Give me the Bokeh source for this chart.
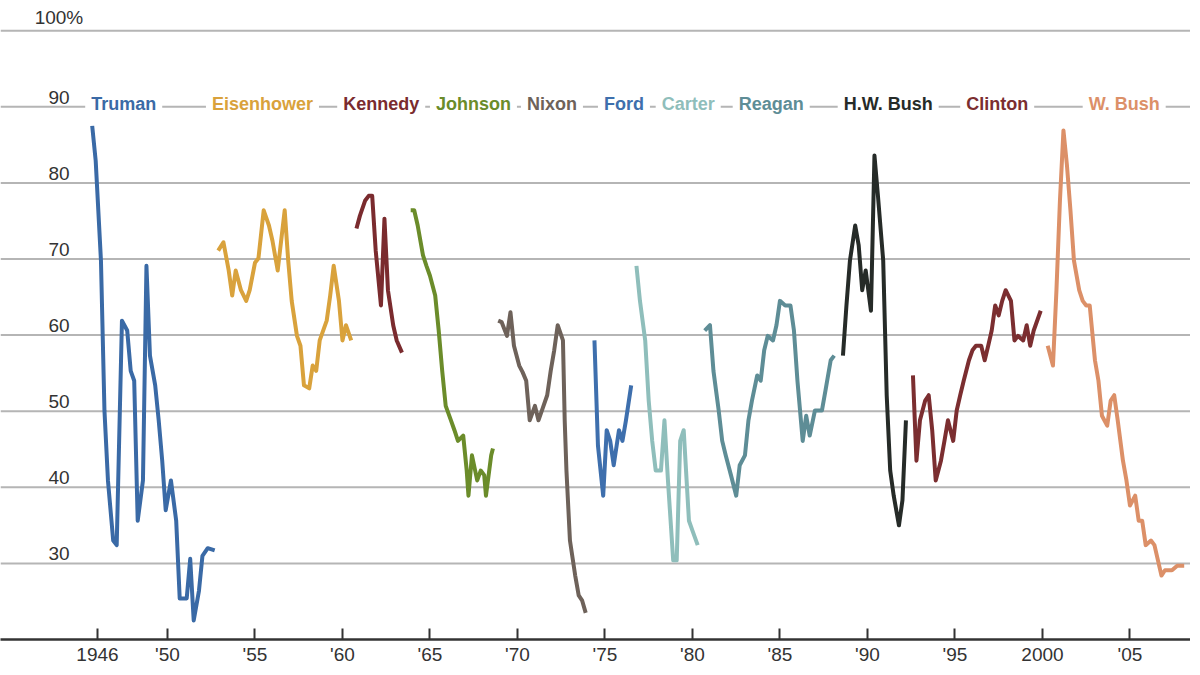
from bokeh.plotting import figure
from bokeh.embed import file_html
from bokeh.resources import INLINE
from bokeh.models import FixedTicker, Range1d
from bokeh.core.properties import value

truman_x = [1945.7,1945.9,1946.2,1946.4,1946.6,1946.9,1947.1,1947.4,1947.7,1947.9,1948.1,1948.3,1948.6,1948.8,1949.0,1949.3,1949.5,1949.7,1949.9,1950.2,1950.5,1950.7,1951.1,1951.3,1951.5,1951.8,1952.0,1952.3,1952.7]
truman_y = [87.5,82.9,69.8,50.1,40.9,33.0,32.4,61.9,60.6,55.3,54.0,35.6,40.9,69.1,57.3,53.4,48.8,43.5,37.0,40.9,35.6,25.4,25.4,30.6,22.5,26.4,31.0,32.0,31.7]
eisen_x = [1952.9,1953.2,1953.5,1953.7,1953.9,1954.2,1954.5,1954.7,1955.0,1955.2,1955.5,1955.8,1956.0,1956.3,1956.7,1956.9,1957.1,1957.4,1957.6,1957.8,1958.1,1958.3,1958.5,1958.7,1959.1,1959.3,1959.5,1959.8,1960.0,1960.2,1960.5]
eisen_y = [71.1,72.2,68.5,65.2,68.5,65.9,64.5,65.9,69.5,70.1,76.4,74.4,72.4,68.5,76.4,69.8,64.5,59.9,58.6,53.4,53.0,56.0,55.3,59.3,61.9,65.2,69.1,64.5,59.3,61.3,59.3]
kennedy_x = [1960.8,1961.0,1961.3,1961.5,1961.7,1961.9,1962.2,1962.4,1962.6,1962.9,1963.1,1963.4]
kennedy_y = [74.0,75.7,77.7,78.3,78.3,71.1,63.9,75.3,65.9,61.3,59.3,57.7]
johnson_x = [1963.9,1964.1,1964.3,1964.6,1964.8,1965.0,1965.3,1965.5,1965.7,1965.9,1966.2,1966.4,1966.6,1966.9,1967.1,1967.2,1967.4,1967.7,1967.9,1968.1,1968.2,1968.5,1968.6]
johnson_y = [76.4,76.4,74.4,70.5,69.1,67.8,65.2,60.6,55.3,50.7,48.8,47.5,46.1,46.8,42.2,38.9,44.2,40.9,42.2,41.6,38.9,44.2,45.1]
nixon_x = [1968.9,1969.1,1969.4,1969.6,1969.8,1970.1,1970.3,1970.5,1970.7,1971.0,1971.2,1971.4,1971.7,1971.9,1972.1,1972.3,1972.6,1972.7,1972.8,1973.0,1973.3,1973.5,1973.7,1973.9]
nixon_y = [61.9,61.7,59.9,63.0,58.6,56.0,55.1,54.0,48.8,50.7,48.8,50.1,52.1,55.3,58.0,61.3,59.3,48.8,42.2,33.0,28.4,25.8,25.1,23.5]
ford_x = [1974.4,1974.6,1974.9,1975.1,1975.3,1975.5,1975.8,1976.0,1976.2,1976.5]
ford_y = [59.3,45.5,38.9,47.5,46.1,42.9,47.5,46.1,48.8,53.4]
carter_x = [1976.8,1977.0,1977.3,1977.5,1977.7,1977.9,1978.2,1978.4,1978.6,1978.9,1979.1,1979.3,1979.5,1979.8,1980.0,1980.3]
carter_y = [69.1,64.5,59.3,51.4,46.1,42.2,42.2,48.8,40.9,30.4,30.4,46.1,47.5,35.6,34.3,32.4]
reagan_x = [1980.7,1981.0,1981.2,1981.5,1981.7,1981.9,1982.2,1982.5,1982.7,1983.0,1983.2,1983.4,1983.7,1983.9,1984.1,1984.3,1984.6,1984.8,1985.0,1985.3,1985.6,1985.8,1986.0,1986.3,1986.5,1986.7,1987.0,1987.2,1987.4,1987.6,1987.9,1988.1]
reagan_y = [60.6,61.3,55.3,50.1,46.1,44.2,41.6,38.9,42.9,44.2,48.8,51.4,54.7,54.0,58.0,59.9,59.3,61.3,64.5,63.9,63.9,60.6,54.0,46.1,49.4,46.8,50.1,50.1,50.1,52.7,56.7,57.3]
hwbush_x = [1988.6,1988.8,1989.0,1989.3,1989.5,1989.7,1989.9,1990.2,1990.4,1990.6,1990.9,1991.1,1991.3,1991.5,1991.8,1992.0,1992.2]
hwbush_y = [57.3,63.9,69.8,74.4,71.8,65.9,68.5,63.2,83.6,78.3,69.8,52.1,42.2,38.9,35.0,38.3,48.8]
clinton_x = [1992.6,1992.8,1993.0,1993.3,1993.5,1993.7,1993.9,1994.2,1994.4,1994.6,1994.9,1995.1,1995.3,1995.5,1995.8,1996.0,1996.2,1996.5,1996.7,1996.9,1997.1,1997.3,1997.5,1997.7,1997.9,1998.2,1998.4,1998.6,1998.9,1999.1,1999.3,1999.5,1999.9]
clinton_y = [54.7,43.5,48.8,51.4,52.1,47.5,40.9,43.5,46.1,48.8,46.1,50.1,52.1,54.0,56.7,58.0,58.6,58.6,56.7,58.6,60.6,63.9,62.6,64.5,65.9,64.5,59.3,59.9,59.3,61.3,58.6,60.6,63.2]
wbush_x = [2000.3,2000.6,2000.8,2001.0,2001.2,2001.4,2001.6,2001.8,2002.1,2002.3,2002.5,2002.7,2003.0,2003.2,2003.4,2003.7,2003.9,2004.1,2004.3,2004.6,2004.8,2005.0,2005.3,2005.5,2005.7,2005.9,2006.2,2006.4,2006.6,2006.8,2007.0,2007.4,2007.7,2008.1]
wbush_y = [58.6,56.0,65.9,77.7,86.9,82.3,76.4,69.8,65.9,64.5,63.9,63.9,56.7,54.0,49.4,48.1,51.4,52.1,48.8,43.5,40.9,37.6,38.9,35.6,35.6,32.4,33.0,32.4,30.4,28.4,29.1,29.1,29.7,29.7]

names = ["Truman","Eisenhower","Kennedy","Johnson","Nixon","Ford","Carter","Reagan","H.W. Bush","Clinton","W. Bush"]
label_x = [1945.3,1952.2,1959.7,1965.0,1970.2,1974.6,1977.9,1982.3,1988.3,1995.3,2002.3]
colors = ["#3a6aa6","#d9a23c","#7a2b2e","#6b8c2a","#6e625a","#3e6fad","#8fbebb","#5e8d96","#262b28","#7b2e30","#dc9068"]
series = [(truman_x,truman_y),(eisen_x,eisen_y),(kennedy_x,kennedy_y),(johnson_x,johnson_y),(nixon_x,nixon_y),(ford_x,ford_y),(carter_x,carter_y),(reagan_x,reagan_y),(hwbush_x,hwbush_y),(clinton_x,clinton_y),(wbush_x,wbush_y)]

grid_vals = [30,40,50,60,70,80,90,100]
grid_labels = ["30","40","50","60","70","80","90","100%"]
ticks = [1946,1950,1955,1960,1965,1970,1975,1980,1985,1990,1995,2000,2005]
tick_labels = ["1946","'50","'55","'60","'65","'70","'75","'80","'85","'90","'95","2000","'05"]

p = figure(width=1190, height=667, output_backend="svg", toolbar_location=None,
           x_range=Range1d(1940.46, 2008.46), y_range=Range1d(20, 103.97),
           min_border_left=0, min_border_right=0, min_border_top=0, min_border_bottom=28)
p.outline_line_color = None
p.xgrid.visible = False
p.ygrid.visible = False
p.yaxis.visible = False
p.background_fill_color = "white"

for g in grid_vals:
    p.line([1940.46, 2008.46], [g, g], line_color="#b5b5b5", line_width=2)

ax = p.xaxis[0]
ax.ticker = FixedTicker(ticks=ticks)
ax.major_label_overrides = {t: l for t, l in zip(ticks, tick_labels)}
ax.major_tick_in = 11
ax.major_tick_out = 0
ax.minor_tick_line_color = None
ax.axis_line_width = 2.5
ax.axis_line_color = "#333333"
ax.major_tick_line_color = "#333333"
ax.major_tick_line_width = 2
ax.major_label_text_font = "Liberation Sans"
ax.major_label_text_font_size = "19px"
ax.major_label_text_color = "#333333"
ax.major_label_standoff = 4

for (xs, ys), c in zip(series, colors):
    p.line(xs, ys, line_color=c, line_width=4, line_join="round")

p.text(x=[1943.8]*len(grid_vals), y=grid_vals, text=grid_labels, text_align="center",
       text_baseline="bottom", y_offset=-3, text_font=value("Liberation Sans"),
       text_font_size="19px", text_color="#333333")

p.text(x=label_x, y=[90]*len(names), text=names, text_color=colors, text_align="left",
       text_baseline="middle", y_offset=-3, text_font=value("Liberation Sans"),
       text_font_style="bold", text_font_size="18px",
       background_fill_color="white", padding=6)

open("out.html", "w").write(file_html(p, INLINE))
